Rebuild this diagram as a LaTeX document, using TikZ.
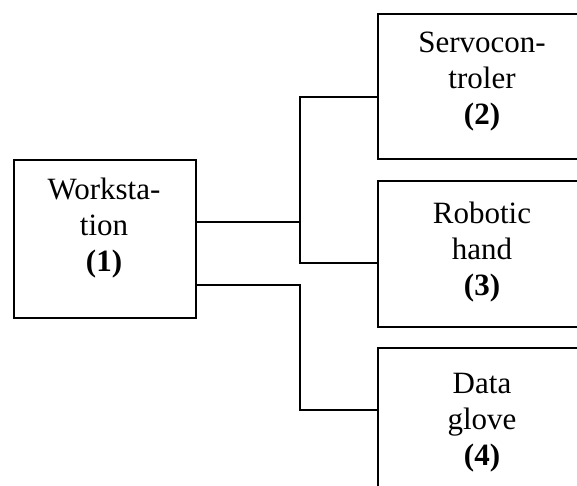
\documentclass[tikz,border=0pt]{standalone}
\usepackage{fontspec}
\setmainfont{Liberation Serif}
\begin{document}
\begin{tikzpicture}[x=1pt,y=-1pt,
  boxnode/.style={draw,line width=1.6pt,inner sep=0,anchor=north west},
  label/.style={anchor=north,inner sep=0,align=center,font=\fontsize{31}{36}\selectfont},
  conn/.style={line width=1.6pt}]
\useasboundingbox (0,0) rectangle (577,486);
\clip (0,0) rectangle (577,486);
\node[boxnode,minimum width=182pt,minimum height=158pt] (ws) at (13,159) {};
\node[boxnode,minimum width=212pt,minimum height=145pt] (sc) at (377,13) {};
\node[boxnode,minimum width=212pt,minimum height=146pt] (rh) at (377,180) {};
\node[boxnode,minimum width=212pt,minimum height=150pt] (dg) at (377,347) {};
\node[label] (wst) at (104,177.5) {Worksta-\\tion\\\textbf{(1)}};
\node[label] (sct) at (482,31.5) {Servocon-\\troler\\\textbf{(2)}};
\node[label] (rht) at (482,201.5) {Robotic\\hand\\\textbf{(3)}};
\node[label] (dgt) at (482,372.5) {Data\\glove\\\textbf{(4)}};
\coordinate (j1) at (300,222);
\coordinate (j2) at (300,285);
\coordinate (t2) at (300,97);
\coordinate (t3) at (300,263);
\coordinate (t4) at (300,410);
\draw[conn] (ws.east |- j1) -- (j1);
\draw[conn] (sc.west |- t2) -- (t2) -- (t3) -- (rh.west |- t3);
\draw[conn] (ws.east |- j2) -- (j2) -- (t4) -- (dg.west |- t4);
\end{tikzpicture}
\end{document}
